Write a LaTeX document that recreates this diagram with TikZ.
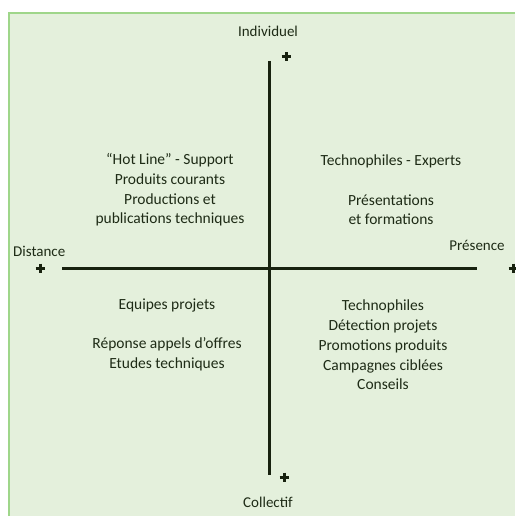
\documentclass[tikz,border=0pt]{standalone}
\usepackage{fontspec}
\setmainfont{Carlito}
\usepackage{tikz}
\definecolor{panelfill}{HTML}{E4F0DC}
\definecolor{panelline}{HTML}{9FD68A}
\definecolor{axisgreen}{HTML}{18220F}
\definecolor{textgreen}{HTML}{1E2B16}
\tikzstyle{axis}=[draw=axisgreen, line width=3pt]
\tikzstyle{plusmark}=[draw=axisgreen, line width=3pt]
\tikzstyle{quadrant}=[text=textgreen, align=center, inner sep=0pt, font=\fontsize{15.5}{19.7}\selectfont]
\tikzstyle{pole}=[text=textgreen, inner sep=0pt, font=\fontsize{15}{17}\selectfont]
\newcommand{\plusat}[2]{\draw[plusmark] (#1-4.5,#2) -- (#1+4.5,#2) (#1,#2-4.5) -- (#1,#2+4.5);}

\begin{document}
\begin{tikzpicture}[x=1pt, y=-1pt]
		   \useasboundingbox (0,0) rectangle (515,516);
		   % background panel
		   \fill[panelfill] (9,13) rectangle (515,516);
		   \draw[panelline, line width=1.5pt] (9,516) -- (9,13) -- (515,13);
		   % the two axes
		   \coordinate (top) at (269,61);
		   \coordinate (bottom) at (269,475);
		   \coordinate (left) at (62,268);
		   \coordinate (right) at (477,268);
		   \draw[axis] (top) -- (bottom);
		   \draw[axis] (left) -- (right);
		   \plusat{286}{57}
		   \plusat{284}{477}
		   \plusat{40}{268}
		   \plusat{513}{268}
		   % poles
		   \node[pole] (indiv) at (268,31) {Individuel};
		   \node[pole] (coll) at (268,502) {Collectif};
		   \node[pole, anchor=west] (dist) at (13,251) {Distance};
		   \node[pole] (pres) at (477,245) {Présence};
		   % quadrants
		   \node[quadrant] (hotline) at (170,190) {“Hot Line” - Support\\Produits courants\\Productions et\\publications techniques};
		   \node[quadrant] (experts) at (391,190) {Technophiles - Experts\\~\\Présentations\\et formations};
		   \node[quadrant] (equipes) at (167,335) {Equipes projets\\~\\Réponse appels d’offres\\Etudes techniques};
		   \node[quadrant] (techno) at (383,345) {Technophiles\\Détection projets\\Promotions produits\\Campagnes ciblées\\Conseils};
	   \end{tikzpicture}
\end{document}
